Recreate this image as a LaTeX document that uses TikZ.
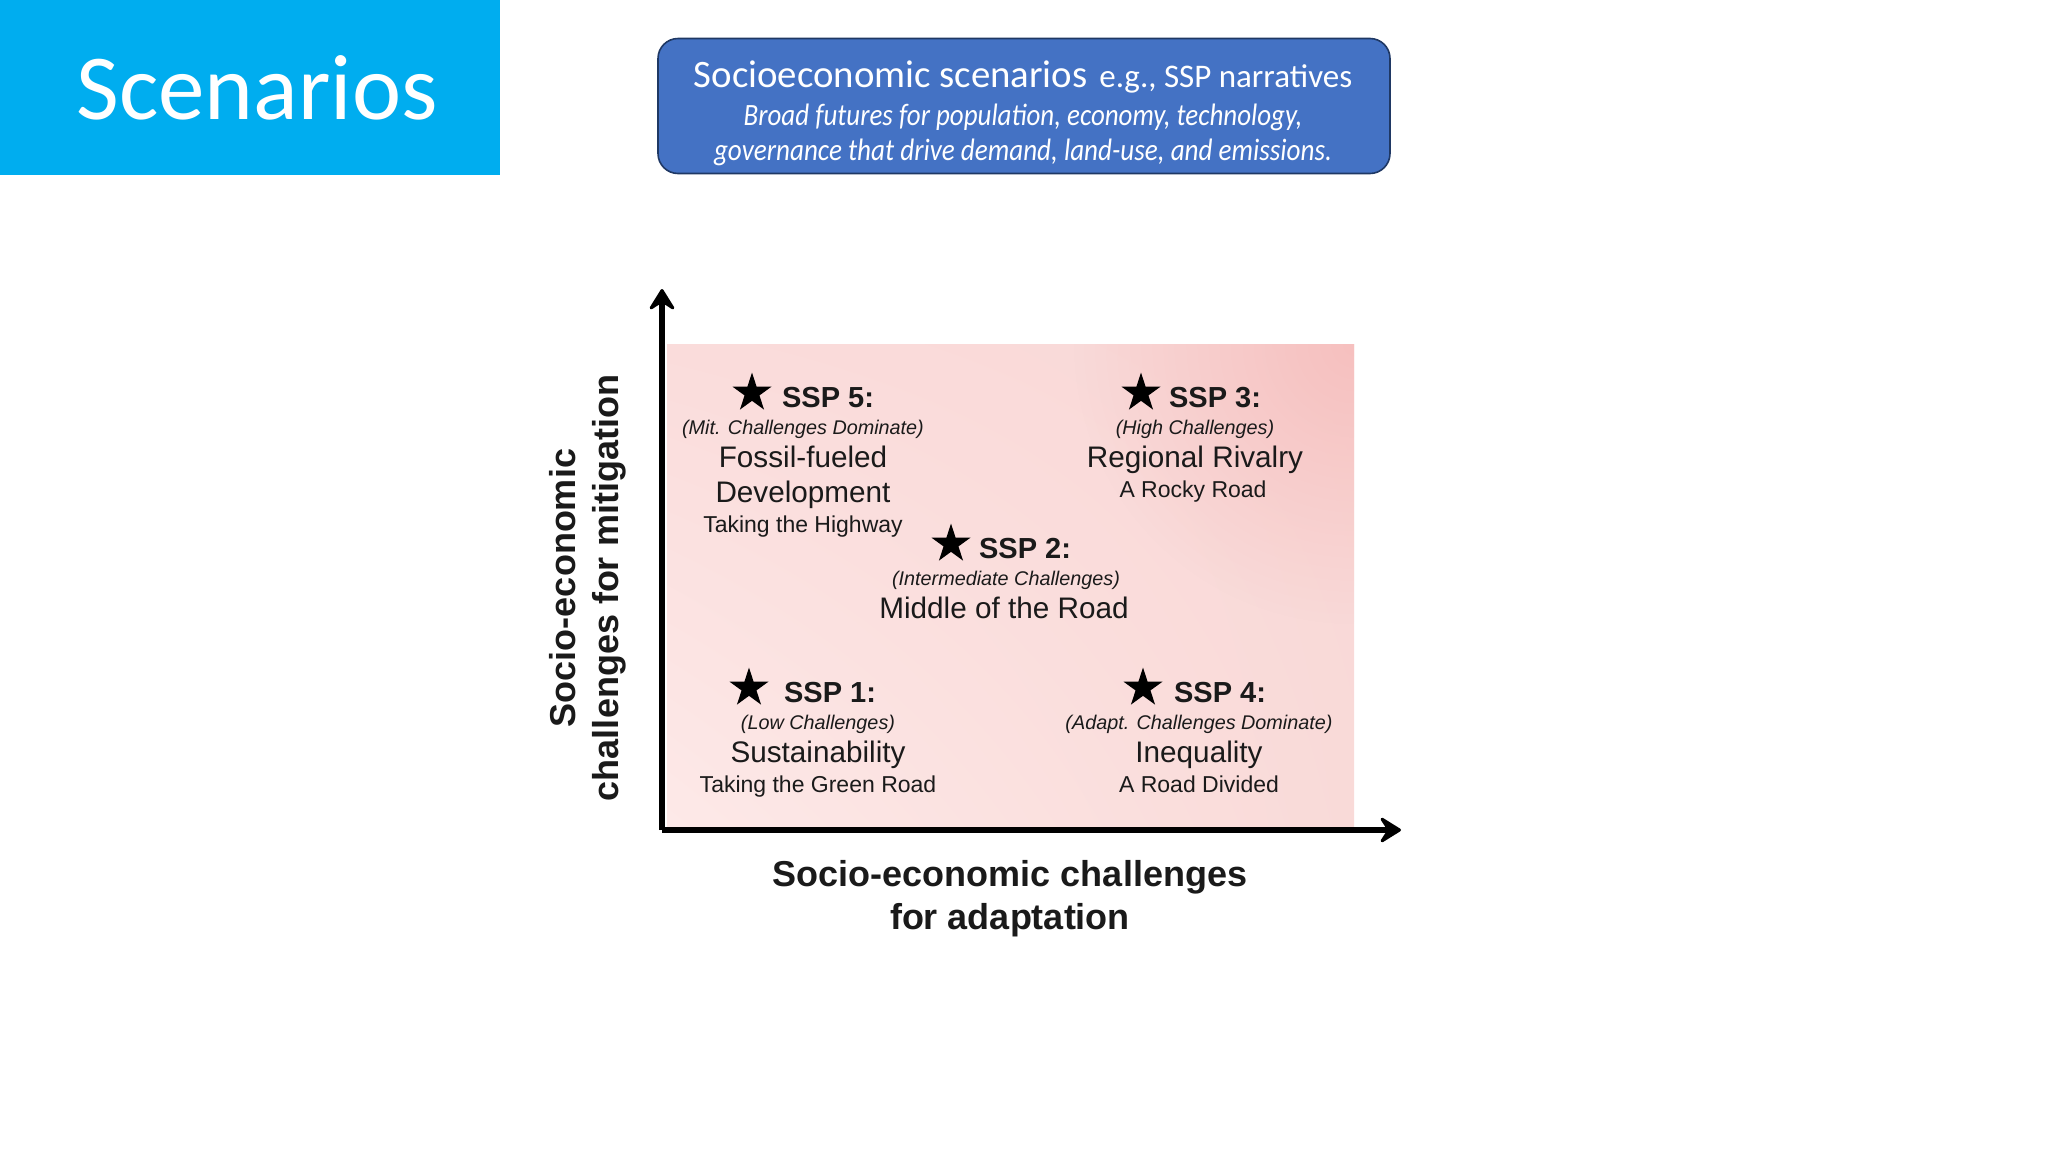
\documentclass[tikz,border=0pt]{standalone}
\usepackage{fontspec}
\setmainfont{Liberation Sans}
\newfontfamily\gill{Carlito}
\usetikzlibrary{arrows.meta,shapes.geometric,shadings,fadings}
\definecolor{titlecyan}{HTML}{00ADEF}
\definecolor{boxblue}{HTML}{4472C4}
\definecolor{boxedge}{HTML}{1F3864}
\definecolor{ink}{HTML}{1A1A1A}
\definecolor{pinkTL}{HTML}{FADCDB}
\definecolor{pinkTR}{HTML}{F9D8D7}
\definecolor{pinkBL}{HTML}{FDE9E8}
\definecolor{pinkBR}{HTML}{F9DAD8}
\definecolor{pinkGlow}{HTML}{F6C0BF}
\tikzfading[name=cornerglow,inner color=transparent!0,outer color=transparent!100]
\tikzset{
  x=1pt,y=-1pt,
  every node/.style={inner sep=0pt,outer sep=0pt,align=center,text=ink},
  sspstar/.style={star,star points=5,star point ratio=2.618,fill=black,draw=none,minimum size=41pt},
  ssplabel/.style={anchor=base,font=\fontsize{29}{29}\selectfont\bfseries},
  sspsub/.style={anchor=base,font=\fontsize{19.8}{20}\selectfont\itshape},
  sspname/.style={anchor=base,font=\fontsize{29.7}{30}\selectfont},
  sspmotto/.style={anchor=base,font=\fontsize{23}{23}\selectfont},
  axislabel/.style={font=\fontsize{36}{43}\selectfont\bfseries},
  axisline/.style={line width=6pt,draw=black,-{Stealth[length=25pt,width=31pt,inset=10pt,round,line width=3pt]}},
  boxline/.style={text=white,font=\gill\fontsize{31}{31}\selectfont\itshape}
}
\begin{document}
\begin{tikzpicture}
\useasboundingbox (0,0) rectangle (2048,1152);
\fill[white] (0,0) rectangle (2048,1152);
\fill[titlecyan] (0,0) rectangle (500,175);
\node[text=white,font=\gill\fontsize{93}{93}\selectfont] (title) at (257,88) {Scenarios};
\node[draw=boxedge,line width=1.6pt,fill=boxblue,rounded corners=20pt,minimum width=732pt,minimum height=135pt] (box) at (1024,106) {};
\node[text=white,font=\gill\fontsize{38.8}{39}\selectfont] (box1) at (1023,77) {Socioeconomic scenarios\hspace{3pt} {\fontsize{33}{33}\selectfont e.g., SSP narratives}};
\node[boxline] (box2) at (1023,117) {\scalebox{0.87}[1]{Broad futures for population, economy, technology,}};
\node[boxline] (box3) at (1023,152) {\scalebox{0.875}[1]{governance that drive demand, land-use, and emissions.}};

\shade[upper left=pinkTL,upper right=pinkTR,lower left=pinkBL,lower right=pinkBR] (667,344) rectangle (1354,826);
\begin{scope}
\clip (667,344) rectangle (1354,826);
\fill[pinkGlow,path fading=cornerglow] (1354,344) circle[radius=280pt];
\end{scope}
\coordinate (origin) at (662,830);
\coordinate (ytip) at (662,289);
\coordinate (xtip) at (1401,830);
\draw[axisline] (origin) -- (ytip);
\draw[axisline] (origin) -- (xtip);

\node[sspstar] (s5) at (752,393) {};
\node[ssplabel] (l5) at (828,407) {SSP 5:};
\node[sspsub] (i5) at (803,434) {(Mit. Challenges Dominate)};
\node[sspname] (n5a) at (803,467) {Fossil-fueled};
\node[sspname] (n5b) at (803,502) {Development};
\node[sspmotto] (m5) at (803,532) {Taking the Highway};

\node[sspstar] (s3) at (1141,393) {};
\node[ssplabel] (l3) at (1215,407) {SSP 3:};
\node[sspsub] (i3) at (1195,434) {(High Challenges)};
\node[sspname] (n3) at (1195,467) {Regional Rivalry};
\node[sspmotto] (m3) at (1193,497) {A Rocky Road};

\node[sspstar] (s2) at (951,544) {};
\node[ssplabel] (l2) at (1025,558) {SSP 2:};
\node[sspsub] (i2) at (1006,585) {(Intermediate Challenges)};
\node[sspname] (n2) at (1004,618) {Middle of the Road};

\node[sspstar] (s1) at (749,688) {};
\node[ssplabel] (l1) at (830,702) {SSP 1:};
\node[sspsub] (i1) at (818,729) {(Low Challenges)};
\node[sspname] (n1) at (818,762) {Sustainability};
\node[sspmotto] (m1) at (818,792) {Taking the Green Road};

\node[sspstar] (s4) at (1143,688) {};
\node[ssplabel] (l4) at (1220,702) {SSP 4:};
\node[sspsub] (i4) at (1199,729) {(Adapt. Challenges Dominate)};
\node[sspname] (n4) at (1199,762) {Inequality};
\node[sspmotto] (m4) at (1199,792) {A Road Divided};

\node[axislabel] (xl) at (1010,899) {Socio-economic challenges\\for adaptation};
\node[axislabel,rotate=90] (yl) at (588,588) {Socio-economic\\challenges for mitigation};
\end{tikzpicture}
\end{document}
